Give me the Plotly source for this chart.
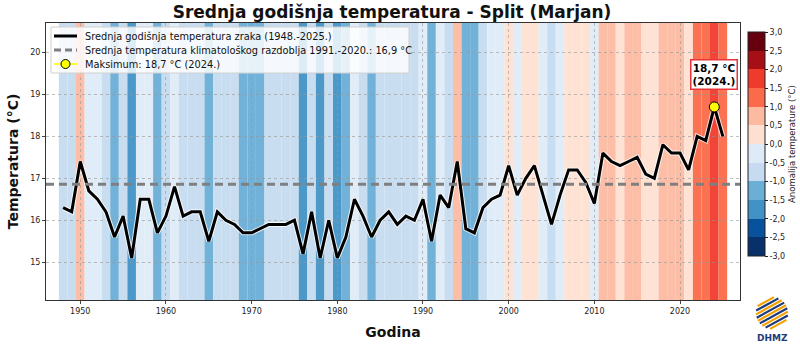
import numpy as np
import plotly.graph_objects as go

years = list(range(1948, 2026))
temps = [16.3, 16.2, 17.4, 16.7, 16.5, 16.2, 15.6, 16.1, 15.1, 16.5,
         16.5, 15.7, 16.1, 16.8, 16.1, 16.2, 16.2, 15.5, 16.2, 16.0,
         15.9, 15.7, 15.7, 15.8, 15.9, 15.9, 15.9, 16.0, 15.2, 16.2,
         15.1, 16.0, 15.1, 15.6, 16.5, 16.1, 15.6, 16.0, 16.2, 15.9,
         16.1, 16.0, 16.5, 15.5, 16.6, 16.3, 17.4, 15.8, 15.7, 16.3,
         16.5, 16.6, 17.3, 16.6, 17.0, 17.3, 16.6, 15.9, 16.6, 17.2,
         17.2, 16.9, 16.4, 17.6, 17.4, 17.3, 17.4, 17.5, 17.1, 17.0,
         17.8, 17.6, 17.6, 17.2, 18.0, 17.9, 18.7, 18.0]
clim = 16.86
max_year = 2024
max_val = 18.7

legend_labels = ["Srednja godišnja temperatura zraka (1948.-2025.)",
                 "Srednja temperatura klimatološkog razdoblja 1991.-2020.: 16,9 °C",
                 "Maksimum: 18,7 °C (2024.)"]

bin_colors = ["#08306b", "#08519c", "#4292c6", "#6baed6", "#c6dbef", "#deebf7",
              "#fee0d2", "#fcbba1", "#fb6a4a", "#ef3b2c", "#a50f15", "#67000d"]
cb_ticks = [-3.0, -2.5, -2.0, -1.5, -1.0, -0.5, 0.0, 0.5, 1.0, 1.5, 2.0, 2.5, 3.0]
cb_ticktext = [f"{v:.1f}".replace(".", ",") for v in cb_ticks]
x_range = [1946, 2027]
y_range = [14.1, 20.7]

# figure geometry (pixels)
W, H = 800, 344
ML, MR, MT, MB = 46, 60, 23, 44
PW, PH = W - ML - MR, H - MT - MB


def px(xp):
    return (xp - ML) / PW


def py(yp):
    return (H - MB - yp) / PH


anom = np.array(temps) - clim
idx = np.clip(np.floor((anom + 3) / 0.5).astype(int), 0, 11)

fig = go.Figure()

shapes = []
for yr, i in zip(years, idx):
    shapes.append(dict(type="rect", xref="x", yref="paper", x0=yr - 0.5, x1=yr + 0.5,
                       y0=0, y1=1, fillcolor=bin_colors[i], line=dict(width=0),
                       opacity=0.95, layer="below"))

# discrete colorscale
cs = []
n = len(bin_colors)
for k, c in enumerate(bin_colors):
    cs.append([k / n, c])
    cs.append([(k + 1) / n, c])

fig.add_trace(go.Scatter(
    x=years, y=temps, mode="markers", showlegend=False, hoverinfo="skip",
    marker=dict(size=1, opacity=0, color=anom, cmin=-3, cmax=3, colorscale=cs,
                showscale=True,
                colorbar=dict(x=1.0115, xanchor="left", xref="paper", y=0.563, yanchor="middle",
                              xpad=0, ypad=0,
                              len=224, lenmode="pixels", thickness=17, thicknessmode="pixels",
                              outlinewidth=1, outlinecolor="#222",
                              tickvals=cb_ticks, ticktext=cb_ticktext,
                              ticks="outside", ticklen=3, tickcolor="#222",
                              tickfont=dict(size=8, color="#222"),
                              title=dict(text="Anomalija temperature (°C)", side="right",
                                         font=dict(size=8.5, color="#222"))))))

fig.add_trace(go.Scatter(x=years, y=temps, mode="lines", showlegend=False, hoverinfo="skip",
                         line=dict(color="rgba(255,255,255,0.8)", width=5)))
fig.add_trace(go.Scatter(x=years, y=temps, mode="lines", showlegend=False,
                         name=legend_labels[0], line=dict(color="black", width=3)))
fig.add_trace(go.Scatter(x=x_range, y=[clim, clim], mode="lines", showlegend=False,
                         name=legend_labels[1],
                         line=dict(color="#7f7f7f", width=3, dash="8px,5px")))
fig.add_trace(go.Scatter(x=[max_year], y=[max_val], mode="markers", showlegend=False,
                         name=legend_labels[2],
                         marker=dict(size=10, color="yellow", line=dict(color="black", width=1))))

fig.add_annotation(x=max_year, y=max_val, xref="x", yref="y", yshift=32, showarrow=False,
                   text="<b>18,7 °C<br>(2024.)</b>", font=dict(size=10.5, color="black",
                                                            family="DejaVu Sans"),
                   bgcolor="white", bordercolor="#e8343a", borderwidth=1.5, borderpad=1)

# custom compact legend (matplotlib style)
lg_left, lg_right, lg_top, lg_bot = 51, 409, 27, 73
shapes.append(dict(type="rect", xref="paper", yref="paper", x0=px(lg_left), x1=px(lg_right),
                   y0=py(lg_bot), y1=py(lg_top), fillcolor="rgba(255,255,255,0.82)",
                   line=dict(color="#d0d0d0", width=1), layer="above"))
row_y = [36, 50, 64]
shapes.append(dict(type="line", xref="paper", yref="paper", x0=px(54), x1=px(77),
                   y0=py(row_y[0]), y1=py(row_y[0]), line=dict(color="black", width=3),
                   layer="above"))
shapes.append(dict(type="line", xref="paper", yref="paper", x0=px(54), x1=px(77),
                   y0=py(row_y[1]), y1=py(row_y[1]), line=dict(color="#7f7f7f", width=3,
                                                                dash="7px,4px"),
                   layer="above"))
shapes.append(dict(type="line", xref="paper", yref="paper", x0=px(54), x1=px(77),
                   y0=py(row_y[2]), y1=py(row_y[2]), line=dict(color="yellow", width=1.5),
                   layer="above"))
shapes.append(dict(type="circle", xref="paper", yref="paper", x0=px(65.5 - 4.5), x1=px(65.5 + 4.5),
                   y0=py(row_y[2] + 4.5), y1=py(row_y[2] - 4.5), fillcolor="yellow",
                   line=dict(color="black", width=1), layer="above"))
for lab, ry in zip(legend_labels, row_y):
    fig.add_annotation(x=px(83), y=py(ry), xref="paper", yref="paper", xanchor="left",
                       yanchor="middle", showarrow=False, text=lab,
                       font=dict(size=9.8, color="#111", family="DejaVu Sans"))

# DHMZ logo (approximation)
cx, cy, r = 772, 313, 16
d = np.array([1.0, -0.55]); d /= np.linalg.norm(d)
nrm = np.array([0.55, 1.0]); nrm /= np.linalg.norm(nrm)
for k, s in enumerate(np.linspace(-13, 13, 9)):
    h = np.sqrt(r * r - s * s)
    p = np.array([cx, cy]) + s * nrm
    a, b = p - h * d, p + h * d
    shapes.append(dict(type="line", xref="paper", yref="paper", x0=px(a[0]), y0=py(a[1]),
                       x1=px(b[0]), y1=py(b[1]),
                       line=dict(color="#f5a000" if k % 2 == 0 else "#1d3c78", width=2.2)))
fig.add_annotation(x=px(772), y=py(338), xref="paper", yref="paper", showarrow=False,
                   xanchor="center", yanchor="middle",
                   text="<b>DHMZ</b>", font=dict(size=9, color="#1d3c78", family="DejaVu Sans"))

fig.update_layout(
    width=W, height=H,
    margin=dict(l=ML, r=MR, t=MT, b=MB, autoexpand=False),
    paper_bgcolor="white", plot_bgcolor="white",
    font=dict(family="DejaVu Sans", color="#222"),
    shapes=shapes,
    showlegend=False,
    title=dict(text="<b>Srednja godišnja temperatura - Split (Marjan)</b>", x=0.49, xanchor="center",
               y=0.965, yanchor="middle", font=dict(size=17, color="#111")),
    xaxis=dict(range=x_range, tickvals=[1950, 1960, 1970, 1980, 1990, 2000, 2010, 2020],
               tickfont=dict(size=8), ticks="outside", ticklen=3, showline=True, linecolor="#333",
               linewidth=1, mirror=True, showgrid=True, gridcolor="rgba(150,150,150,0.6)",
               griddash="dot", gridwidth=1, zeroline=False,
               title=dict(text="<b>Godina</b>", font=dict(size=14, color="#111"), standoff=12)),
    yaxis=dict(range=y_range, tickvals=[15, 16, 17, 18, 19, 20],
               tickfont=dict(size=8), ticks="outside", ticklen=3, showline=True, linecolor="#333",
               linewidth=1, mirror=True, showgrid=True, gridcolor="rgba(150,150,150,0.6)",
               griddash="dot", gridwidth=1, zeroline=False,
               title=dict(text="<b>Temperatura (°C)</b>", font=dict(size=14, color="#111"), standoff=8)),
)

fig.write_html("out.html")
